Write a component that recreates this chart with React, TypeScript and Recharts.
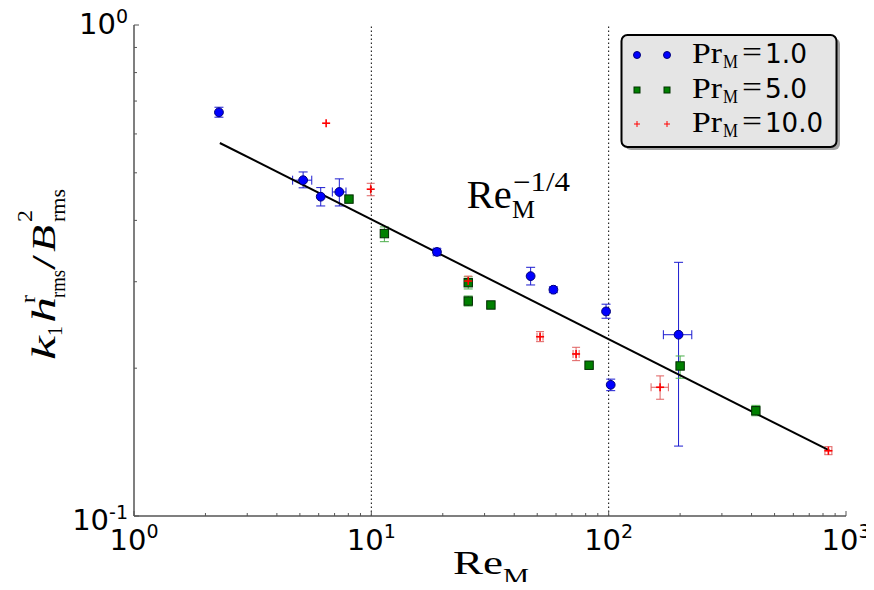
import React from 'react';
import {
  ScatterChart,
  Scatter,
  XAxis,
  YAxis,
  ErrorBar,
  ReferenceLine,
} from 'recharts';

// Pr_M = 1.0 (blue circles)
const PR1_X = [2.28, 5.16, 6.12, 7.33, 18.9, 46.9, 58.5, 97.5, 102, 197];
const PR1_Y = [0.664, 0.483, 0.447, 0.457, 0.345, 0.308, 0.289, 0.261, 0.185, 0.234];
const PR1_Y_LO = [0.649, 0.466, 0.428, 0.428, 0.34, 0.2955, 0.285, 0.2528, 0.18, 0.1388];
const PR1_Y_HI = [0.68, 0.502, 0.4665, 0.486, 0.35, 0.321, 0.293, 0.27, 0.19, 0.3286];
const PR1_X_LO = [null, 4.66, null, 6.85, 18.35, null, 57.4, null, null, 170];
const PR1_X_HI = [null, 5.61, null, 7.82, 19.47, null, 59.6, null, null, 224];

// Pr_M = 5.0 (green squares)
const PR5_X = [8.05, 11.35, 25.6, 25.6, 31.9, 82.7, 200, 417];
const PR5_Y = [0.442, 0.376, 0.2986, 0.274, 0.269, 0.2028, 0.2021, 0.1638];
const PR5_Y_LO = [null, 0.362, 0.29, 0.2677, null, null, 0.1908, 0.16];
const PR5_Y_HI = [null, 0.388, 0.307, 0.2806, null, null, 0.2118, 0.168];

// Pr_M = 10.0 (red plus)
const PR10_X = [6.45, 9.94, 25.6, 51.4, 72.9, 164.7, 843];
const PR10_Y = [0.631, 0.463, 0.301, 0.2318, 0.2138, 0.1829, 0.1358];
const PR10_Y_LO = [null, 0.449, 0.294, 0.2265, 0.2072, 0.1729, 0.1333];
const PR10_Y_HI = [null, 0.476, 0.308, 0.2374, 0.2206, 0.1929, 0.1384];
const PR10_X_LO = [null, null, null, 49.9, 70.8, 150.9, 815];
const PR10_X_HI = [null, null, null, 52.9, 75.1, 178.5, 872];

// fitted Re_M^{-1/4} line, end points
const FIT_X = [2.3, 850];
const FIT_Y = [0.575, 0.136];

const X_MAJOR = [1, 10, 100, 1000];
const X_TICKS = [1, 2, 3, 4, 5, 6, 7, 8, 9, 10, 20, 30, 40, 50, 60, 70, 80, 90, 100, 200, 300, 400, 500, 600, 700, 800, 900, 1000];
const Y_MAJOR = [0.1, 1];
const Y_TICKS = [0.1, 0.2, 0.3, 0.4, 0.5, 0.6, 0.7, 0.8, 0.9, 1];
const GRID_X = [10, 100];

const LEGEND_LABELS = ['1.0', '5.0', '10.0'];

type Bound = number | null;

const toPoints = (
  xs: number[],
  ys: number[],
  ylo: Bound[],
  yhi: Bound[],
  xlo?: Bound[],
  xhi?: Bound[]
) =>
  xs.map((x, i) => ({
    x,
    y: ys[i],
    ey: ylo[i] == null ? undefined : [ys[i] - (ylo[i] as number), (yhi[i] as number) - ys[i]],
    ex: xlo && xlo[i] != null ? [x - (xlo[i] as number), (xhi![i] as number) - x] : undefined,
  }));

const pr1 = toPoints(PR1_X, PR1_Y, PR1_Y_LO, PR1_Y_HI, PR1_X_LO, PR1_X_HI);
const pr5 = toPoints(PR5_X, PR5_Y, PR5_Y_LO, PR5_Y_HI);
const pr10 = toPoints(PR10_X, PR10_Y, PR10_Y_LO, PR10_Y_HI, PR10_X_LO, PR10_X_HI);
const fit = FIT_X.map((x, i) => ({ x, y: FIT_Y[i] }));

const W = 866;
const H = 574;
const AXIS_COLOR = '#555';
const TICK_FONT = 'DejaVu Sans, sans-serif';
const SERIF = 'Liberation Serif, serif';

const exp10 = (v: number) => String(Math.round(Math.log10(v)));

const BottomTick = (props: any) => {
  const { x, y, payload } = props;
  const major = X_MAJOR.includes(payload.value);
  return (
    <g>
      <line x1={x} x2={x} y1={y} y2={y - (major ? 5 : 3)} stroke={AXIS_COLOR} />
      {major && (
        <text x={x} y={y + 34} textAnchor="middle" fontFamily={TICK_FONT} fontSize={29} fill="#000">
          10
          <tspan dy={-12} fontSize={19}>{exp10(payload.value)}</tspan>
        </text>
      )}
    </g>
  );
};

const TopTick = (props: any) => {
  const { x, y, payload } = props;
  const major = X_MAJOR.includes(payload.value);
  return <line x1={x} x2={x} y1={y} y2={y + (major ? 5 : 3)} stroke={AXIS_COLOR} />;
};

const LeftTick = (props: any) => {
  const { x, y, payload } = props;
  const major = Y_MAJOR.includes(payload.value);
  // labels sit slightly above the top tick and slightly below the bottom one
  const dy = payload.value === 1 ? 9 : 14;
  return (
    <g>
      <line x1={x} x2={x + (major ? 5 : 3)} y1={y} y2={y} stroke={AXIS_COLOR} />
      {major && (
        <text x={x - 6} y={y + dy} textAnchor="end" fontFamily={TICK_FONT} fontSize={29} fill="#000">
          10
          <tspan dy={-11} fontSize={19}>{exp10(payload.value)}</tspan>
        </text>
      )}
    </g>
  );
};

const RightTick = (props: any) => {
  const { x, y, payload } = props;
  const major = Y_MAJOR.includes(payload.value);
  return <line x1={x} x2={x - (major ? 5 : 3)} y1={y} y2={y} stroke={AXIS_COLOR} />;
};

const BlueDot = (p: any) => <circle cx={p.cx} cy={p.cy} r={4.4} fill="#0000ff" stroke="#00007a" strokeWidth={1} />;
const GreenSquare = (p: any) => (
  <rect x={p.cx - 4.2} y={p.cy - 4.2} width={8.4} height={8.4} fill="#008000" stroke="#002a00" strokeWidth={1} />
);
const RedPlus = (p: any) => (
  <g stroke="#ff0000" strokeWidth={1.6}>
    <line x1={p.cx - 4} x2={p.cx + 4} y1={p.cy} y2={p.cy} />
    <line x1={p.cx} x2={p.cx} y1={p.cy - 4} y2={p.cy + 4} />
  </g>
);
const NoDot = () => <g />;

const LegendBox = () => {
  const rows = [0, 35, 69];
  return (
    <g transform="translate(612, 25)">
      <rect x={5} y={5} width={215} height={112} rx={6} fill="#666" opacity={0.6} />
      <rect x={1.5} y={2} width={215} height={112} rx={6} fill="#e5e5e5" stroke="#000" strokeWidth={2} />
      {LEGEND_LABELS.map((lab, i) => {
        const my = 22 + rows[i];
        const by = 30 + rows[i];
        return (
          <g key={lab}>
            {[17, 47].map((mx) =>
              i === 0 ? (
                <circle key={mx} cx={mx} cy={my} r={3.5} fill="#0000ff" stroke="#00007a" />
              ) : i === 1 ? (
                <rect key={mx} x={mx - 3} y={my - 3} width={6} height={6} fill="#008000" stroke="#003300" />
              ) : (
                <g key={mx} stroke="#ff0000" strokeWidth={1}>
                  <line x1={mx - 3} x2={mx + 3} y1={my} y2={my} />
                  <line x1={mx} x2={mx} y1={my - 3} y2={my + 3} />
                </g>
              )
            )}
            <text x={72} y={by} fontFamily={SERIF} fontSize={30} textLength={30} lengthAdjust="spacingAndGlyphs">
              Pr
            </text>
            <text x={103} y={by + 5} fontFamily={SERIF} fontSize={19} textLength={15} lengthAdjust="spacingAndGlyphs">
              M
            </text>
            <text x={122} y={by - 1} fontFamily={SERIF} fontSize={30} textLength={20} lengthAdjust="spacingAndGlyphs">
              =
            </text>
            <text
              x={145}
              y={by}
              fontFamily={TICK_FONT}
              fontSize={26}
              textLength={i === 2 ? 58 : 42}
              lengthAdjust="spacingAndGlyphs"
            >
              {lab}
            </text>
          </g>
        );
      })}
    </g>
  );
};

const Overlay = () => (
  <svg
    width={W}
    height={H + 8}
    style={{ position: 'absolute', left: 0, top: 0, pointerEvents: 'none', overflow: 'visible' }}
  >
    <LegendBox />

    {/* annotation */}
    <text x={458.7} y={200} fontFamily={SERIF} fontSize={40} textLength={45} lengthAdjust="spacingAndGlyphs">
      Re
    </text>
    <text x={505} y={183} fontFamily={SERIF} fontSize={27} textLength={57} lengthAdjust="spacingAndGlyphs">
      −1/4
    </text>
    <text x={504} y={210} fontFamily={SERIF} fontSize={25} textLength={23} lengthAdjust="spacingAndGlyphs">
      M
    </text>

    {/* x label */}
    <text x={445} y={566} fontFamily={SERIF} fontSize={33} textLength={50} lengthAdjust="spacingAndGlyphs">
      Re
    </text>
    <text x={495} y={576} fontFamily={SERIF} fontSize={23} textLength={26} lengthAdjust="spacingAndGlyphs">
      M
    </text>

    {/* y label */}
    <g transform="translate(47, 352) rotate(-90)" fontFamily={SERIF}>
      <text x={0} y={0} fontSize={34} fontStyle="italic" textLength={24} lengthAdjust="spacingAndGlyphs">k</text>
      <text x={24} y={7} fontSize={20} textLength={10} lengthAdjust="spacingAndGlyphs">1</text>
      <text x={37} y={0} fontSize={34} fontStyle="italic" textLength={26} lengthAdjust="spacingAndGlyphs">h</text>
      <text x={57} y={-20} fontSize={20} textLength={8} lengthAdjust="spacingAndGlyphs">r</text>
      <text x={62} y={10} fontSize={20} textLength={28} lengthAdjust="spacingAndGlyphs">rms</text>
      <text x={90} y={0} fontSize={34} textLength={15} lengthAdjust="spacingAndGlyphs">/</text>
      <text x={108} y={0} fontSize={34} fontStyle="italic" textLength={27} lengthAdjust="spacingAndGlyphs">B</text>
      <text x={138} y={-23} fontSize={20} textLength={12} lengthAdjust="spacingAndGlyphs">2</text>
      <text x={138} y={10} fontSize={20} textLength={33} lengthAdjust="spacingAndGlyphs">rms</text>
    </g>
  </svg>
);

export default function App() {
  return (
    <div style={{ position: 'relative', width: W, height: H }}>
      <ScatterChart width={W} height={H} margin={{ top: 17, right: 28, bottom: 0, left: 0 }}>
        <XAxis
          xAxisId="b"
          type="number"
          dataKey="x"
          scale="log"
          domain={[1, 1000]}
          ticks={X_TICKS}
          interval={0}
          allowDataOverflow
          height={66}
          tickSize={0}
          tickMargin={0}
          tickLine={false}
          tick={<BottomTick />}
          axisLine={{ stroke: AXIS_COLOR, strokeWidth: 1.5 }}
        />
        <XAxis
          xAxisId="t"
          orientation="top"
          type="number"
          dataKey="x"
          scale="log"
          domain={[1, 1000]}
          ticks={X_TICKS}
          interval={0}
          allowDataOverflow
          height={0}
          tickSize={0}
          tickMargin={0}
          tickLine={false}
          tick={<TopTick />}
          axisLine={{ stroke: AXIS_COLOR, strokeWidth: 1.5 }}
        />
        <YAxis
          yAxisId="l"
          type="number"
          dataKey="y"
          scale="log"
          domain={[0.1, 1]}
          ticks={Y_TICKS}
          interval={0}
          allowDataOverflow
          width={126}
          tickSize={0}
          tickMargin={0}
          tickLine={false}
          tick={<LeftTick />}
          axisLine={{ stroke: AXIS_COLOR, strokeWidth: 1.5 }}
        />
        <YAxis
          yAxisId="r"
          orientation="right"
          type="number"
          dataKey="y"
          scale="log"
          domain={[0.1, 1]}
          ticks={Y_TICKS}
          interval={0}
          allowDataOverflow
          width={0}
          tickSize={0}
          tickMargin={0}
          tickLine={false}
          tick={<RightTick />}
          axisLine={{ stroke: AXIS_COLOR, strokeWidth: 1.5 }}
        />
        {GRID_X.map((gx) => (
          <ReferenceLine
            key={gx}
            x={gx}
            xAxisId="b"
            yAxisId="l"
            stroke="#000"
            strokeWidth={1}
            strokeDasharray="1.5 2.5"
          />
        ))}
        <Scatter
          name="fit"
          data={fit}
          xAxisId="b"
          yAxisId="l"
          line={{ stroke: '#000', strokeWidth: 2 }}
          shape={<NoDot />}
          legendType="none"
          isAnimationActive={false}
        />
        <Scatter name="Pr1" data={pr1} xAxisId="b" yAxisId="l" shape={<BlueDot />} isAnimationActive={false}>
          <ErrorBar dataKey="ey" direction="y" stroke="#1c1cd0" strokeWidth={1} width={4.5} />
          <ErrorBar dataKey="ex" direction="x" stroke="#1c1cd0" strokeWidth={1} width={4.5} />
        </Scatter>
        <Scatter name="Pr5" data={pr5} xAxisId="b" yAxisId="l" shape={<GreenSquare />} isAnimationActive={false}>
          <ErrorBar dataKey="ey" direction="y" stroke="#4caf4c" strokeWidth={1} width={4.5} />
        </Scatter>
        <Scatter name="Pr10" data={pr10} xAxisId="b" yAxisId="l" shape={<RedPlus />} isAnimationActive={false}>
          <ErrorBar dataKey="ey" direction="y" stroke="#e06060" strokeWidth={1} width={4} />
          <ErrorBar dataKey="ex" direction="x" stroke="#e06060" strokeWidth={1} width={4} />
        </Scatter>
      </ScatterChart>
      <Overlay />
    </div>
  );
}
